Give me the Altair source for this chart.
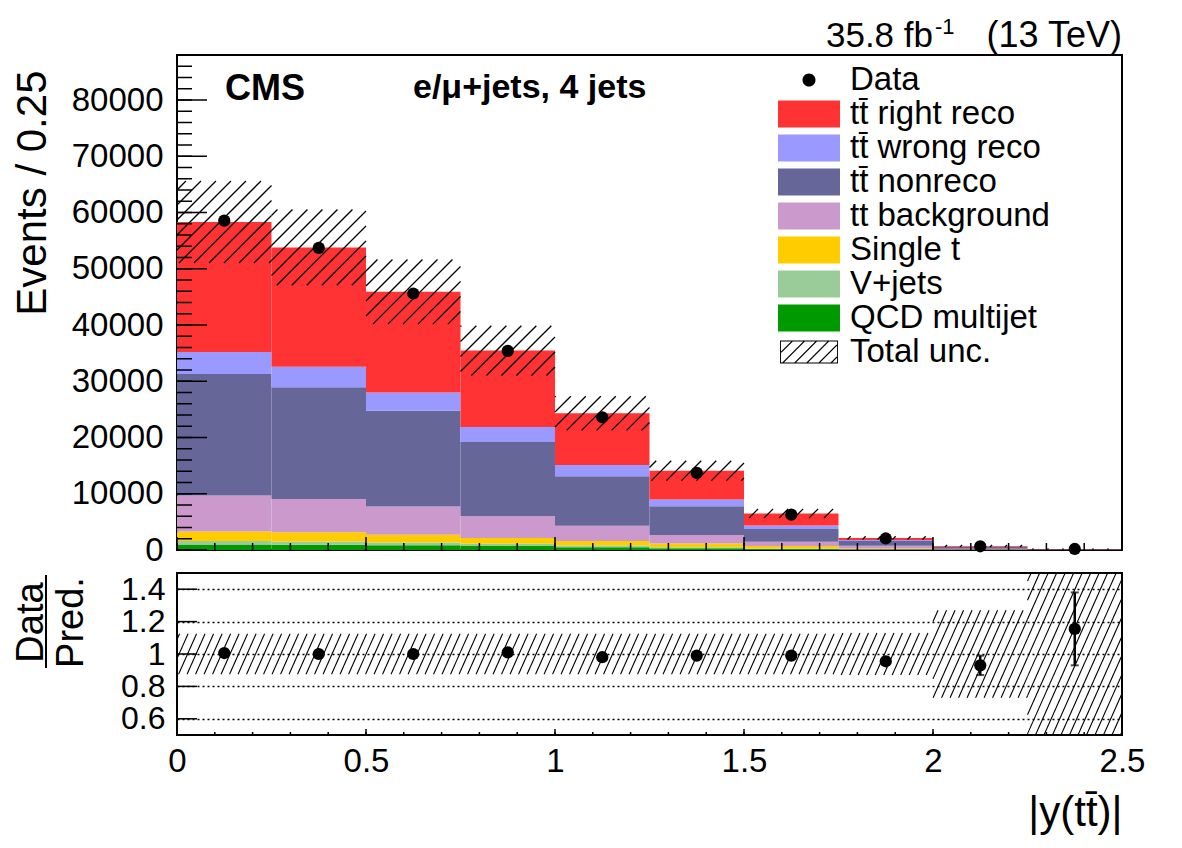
import math
import pandas as pd
import altair as alt

FONT = "Liberation Sans"

# ---------------- data ----------------
bin_lo = [0.0, 0.25, 0.5, 0.75, 1.0, 1.25, 1.5, 1.75, 2.0, 2.25]
bin_hi = [0.25, 0.5, 0.75, 1.0, 1.25, 1.5, 1.75, 2.0, 2.25, 2.5]

qcd        = [1000, 950, 850, 700, 500, 300, 150, 60, 20, 5]
vjets      = [600, 550, 500, 400, 300, 200, 130, 60, 20, 5]
single_t   = [1700, 1650, 1350, 1050, 800, 650, 420, 160, 50, 10]
tt_bkg     = [6400, 5900, 5050, 3850, 2700, 1500, 750, 470, 150, 40]
tt_nonreco = [21600, 19900, 17000, 13200, 8800, 5150, 2300, 850, 280, 60]
tt_wrong   = [3900, 3650, 3250, 2650, 2000, 1200, 600, 200, 70, 15]
tt_right   = [23100, 21200, 17900, 13600, 9200, 5100, 2150, 350, 120, 25]

data_obs = [58550, 53700, 45600, 35400, 23600, 13700, 6300, 2050, 660, 185]

rel_unc = [0.125, 0.125, 0.125, 0.125, 0.125, 0.125, 0.125, 0.13, 0.27, 0.6]

ratio     = [1.006, 1.0, 1.0, 1.01, 0.98, 0.99, 0.99, 0.955, 0.93, 1.155]
ratio_err = [0.005, 0.005, 0.005, 0.006, 0.007, 0.009, 0.013, 0.022, 0.06, 0.225]

# axis tick positions
major_x = [0, 0.5, 1, 1.5, 2, 2.5]
minor_x = [round(i * 0.1, 1) for i in range(26)]
top_major_y = [0, 10000, 20000, 30000, 40000, 50000, 60000, 70000, 80000]
top_minor_y = [i * 2000 for i in range(45)]
bot_major_y = [0.6, 0.8, 1.0, 1.2, 1.4]

TTB = "t" + "t\u0304"
proc_names = ["QCD multijet", "V+jets", "Single t", "tt background",
              TTB + " nonreco", TTB + " wrong reco", TTB + " right reco"]
proc_values = [qcd, vjets, single_t, tt_bkg, tt_nonreco, tt_wrong, tt_right]

legend_domain = ["Data", TTB + " right reco", TTB + " wrong reco", TTB + " nonreco",
                 "tt background", "Single t", "V+jets", "QCD multijet", "Total unc."]
legend_colors = ["#000000", "#ff3333", "#9999ff", "#666699", "#cc99cc",
                 "#ffcc00", "#99cc99", "#009900", "#000000"]

# ---------------- geometry of the panels ----------------
W = 945
H_TOP = 495
H_BOT = 162
XDOM = [0, 2.5]
YDOM_TOP = [0, 88000]
YDOM_BOT = [0.5, 1.5]

# ---------------- tables ----------------
rows = []
for order, (name, vals) in enumerate(zip(proc_names, proc_values)):
    for lo, hi, v in zip(bin_lo, bin_hi, vals):
        rows.append(dict(lo=lo, hi=hi, val=v, proc=name, ord=order))
stack_df = pd.DataFrame(rows)

totals = [sum(v[i] for v in proc_values) for i in range(len(bin_lo))]
centers = [(a + b) / 2 for a, b in zip(bin_lo, bin_hi)]
data_df = pd.DataFrame(dict(x=centers, y=data_obs))

ratio_df = pd.DataFrame(dict(x=centers, r=ratio,
                             lo=[r - e for r, e in zip(ratio, ratio_err)],
                             hi=[r + e for r, e in zip(ratio, ratio_err)]))


def hatch(x_lo, x_hi, y_lo, y_hi, xdom, ydom, w, h, spacing, angle):
    m = math.tan(math.radians(angle))
    sx = w / (xdom[1] - xdom[0])
    sy = h / (ydom[1] - ydom[0])
    out = []
    for a0, a1, b0, b1 in zip(x_lo, x_hi, y_lo, y_hi):
        b0 = max(b0, ydom[0])
        b1 = min(b1, ydom[1])
        if b1 <= b0:
            continue
        u0, u1 = (a0 - xdom[0]) * sx, (a1 - xdom[0]) * sx
        v0, v1 = (b0 - ydom[0]) * sy, (b1 - ydom[0]) * sy
        kmin = math.floor((u0 - v1 / m) / spacing) - 1
        kmax = math.ceil((u1 - v0 / m) / spacing) + 1
        for k in range(kmin, kmax + 1):
            c = k * spacing
            ua = max(u0, c + v0 / m)
            ub = min(u1, c + v1 / m)
            if ub - ua > 0.3:
                out.append(dict(hx=ua / sx + xdom[0], hy=m * (ua - c) / sy + ydom[0],
                                hx2=ub / sx + xdom[0], hy2=m * (ub - c) / sy + ydom[0]))
    return pd.DataFrame(out)


top_hatch = hatch(bin_lo, bin_hi,
                  [t * (1 - u) for t, u in zip(totals, rel_unc)],
                  [t * (1 + u) for t, u in zip(totals, rel_unc)],
                  XDOM, YDOM_TOP, W, H_TOP, 15, 45)
bot_hatch = hatch(bin_lo, bin_hi,
                  [1 - u for u in rel_unc], [1 + u for u in rel_unc],
                  XDOM, YDOM_BOT, W, H_BOT, 8.5, 66)

# ---------------- legend symbols (style only) ----------------
BOX = "M-1,-0.435L1,-0.435L1,0.435L-1,0.435Z"
CIRC = "M0.21,0A0.21,0.21,0,1,1,-0.21,0A0.21,0.21,0,1,1,0.21,0Z"


def hatch_symbol():
    w, h, t, lw, s = 0.935, 0.37, 0.03, 0.055, 0.39
    p = (f"M{-w},{-h}L{w},{-h}L{w},{h}L{-w},{h}Z"
         f"M{-w+t},{-h+t}L{-w+t},{h-t}L{w-t},{h-t}L{w-t},{-h+t}Z")
    u = -w - 2 * h
    while u < w:
        ta = max(0.0, -w - u)
        tb = min(2 * h, w - lw - u)
        if tb > ta:
            x1, y1 = u + ta, h - ta
            x2, y2 = u + tb, h - tb
            p += (f"M{x1:.3f},{y1:.3f}L{x2:.3f},{y2:.3f}"
                  f"L{x2+lw:.3f},{y2:.3f}L{x1+lw:.3f},{y1:.3f}Z")
        u += s
    return p


legend_shapes = [CIRC, BOX, BOX, BOX, BOX, BOX, BOX, BOX, hatch_symbol()]

xscale = alt.Scale(domain=XDOM, nice=False, zero=False)
yscale_top = alt.Scale(domain=YDOM_TOP, nice=False)
yscale_bot = alt.Scale(domain=YDOM_BOT, nice=False, zero=False)

legend_cfg = dict(orient="none", legendX=601, legendY=8.5, title=None,
                  symbolSize=3844, labelFontSize=33, labelFont=FONT, labelColor="black",
                  clipHeight=33, rowPadding=-3, padding=0, labelOffset=10,
                  symbolStrokeWidth=0, labelLimit=500, symbolOpacity=1, offset=0)


def xticks(values, length, height, show_axis=True):
    enc_x = alt.X("v:Q", scale=xscale) if show_axis else alt.X("v:Q", scale=xscale, axis=None)
    return alt.Chart(pd.DataFrame({"v": values})).mark_rule(
        color="black", strokeWidth=1.5).encode(
        x=enc_x, y=alt.value(height - length), y2=alt.value(height))


def yticks(values, length, yscale):
    return alt.Chart(pd.DataFrame({"v": values})).mark_rule(
        color="black", strokeWidth=1.5).encode(
        y=alt.Y("v:Q", scale=yscale),
        x=alt.value(0), x2=alt.value(length))


def label(text, x, y, size, weight="normal", align="left"):
    return alt.Chart(pd.DataFrame({"t": [text]})).mark_text(
        font=FONT, fontSize=size, fontWeight=weight, align=align,
        baseline="alphabetic", color="black").encode(
        x=alt.value(x), y=alt.value(y), text="t:N")


# ---------------- top panel ----------------
bars = alt.Chart(stack_df).transform_stack(
    stack="val", groupby=["lo"], as_=["v0", "v1"],
    sort=[alt.SortField("ord", order="ascending")]
).mark_rect(opacity=1).encode(
    x=alt.X("lo:Q", scale=xscale, axis=None),
    x2="hi:Q",
    y=alt.Y("v0:Q", scale=yscale_top,
            axis=alt.Axis(orient="left", values=top_major_y, format="d",
                          labelFont=FONT, labelFontSize=33, labelColor="black",
                          labelPadding=14, labelOverlap=False, ticks=False, tickSize=0,
                          domain=False, grid=False,
                          title="Events / 0.25", titleFont=FONT, titleFontSize=42,
                          titleFontWeight="normal", titleColor="black", titleAngle=-90,
                          titleX=-132, titleY=15, titleAlign="right",
                          titleBaseline="alphabetic")),
    y2="v1:Q",
    color=alt.Color("proc:N", scale=alt.Scale(domain=legend_domain, range=legend_colors),
                    legend=alt.Legend(**legend_cfg)),
)

top_hatch_layer = alt.Chart(top_hatch).mark_rule(color="black", strokeWidth=1.3).encode(
    x=alt.X("hx:Q", scale=xscale, axis=None),
    y=alt.Y("hy:Q", scale=yscale_top),
    x2="hx2:Q",
    y2="hy2:Q",
)

data_pts = alt.Chart(data_df).mark_circle(size=150, color="black", opacity=1).encode(
    x=alt.X("x:Q", scale=xscale, axis=None),
    y=alt.Y("y:Q", scale=yscale_top),
)

legend_layer = alt.Chart(pd.DataFrame({"proc": pd.Series([], dtype=str)})).mark_point(
    filled=True, opacity=1).encode(
    color=alt.Color("proc:N", scale=alt.Scale(domain=legend_domain, range=legend_colors),
                    legend=alt.Legend(**legend_cfg)),
    shape=alt.Shape("proc:N", scale=alt.Scale(domain=legend_domain, range=legend_shapes),
                    legend=alt.Legend(**legend_cfg)),
)

top = alt.layer(
    bars, top_hatch_layer, data_pts, legend_layer,
    xticks(minor_x, 7, H_TOP, False), xticks(major_x, 13, H_TOP, False),
    yticks(top_minor_y, 15, yscale_top), yticks(top_major_y, 30, yscale_top),
    label("CMS", 48, 45, 36, "bold"),
    label("e/\u03bc+jets, 4 jets", 236, 43, 34, "bold"),
    label("35.8 fb", 756, -8, 35, align="right"),
    label("-1", 758, -21, 22),
    label("(13 TeV)", 945, -8, 36, align="right"),
).properties(width=W, height=H_TOP)

# ---------------- ratio panel ----------------
bot_hatch_layer = alt.Chart(bot_hatch).mark_rule(color="black", strokeWidth=1.1).encode(
    x=alt.X("hx:Q", scale=xscale,
            axis=alt.Axis(orient="bottom", values=major_x, format="~g",
                          labelFlush=False, labelOverlap=False, labelFont=FONT,
                          labelFontSize=33, labelColor="black", labelPadding=10,
                          ticks=False, tickSize=0, domain=False, grid=False,
                          title="|y(" + TTB + ")|", titleFont=FONT, titleFontSize=42,
                          titleFontWeight="normal", titleColor="black",
                          titleX=W, titleY=90, titleAlign="right",
                          titleBaseline="alphabetic")),
    y=alt.Y("hy:Q", scale=yscale_bot,
            axis=alt.Axis(orient="left", values=bot_major_y, format="~g",
                          labelFont=FONT, labelFontSize=32, labelColor="black",
                          labelPadding=12, labelOverlap=False, ticks=False, tickSize=0,
                          domain=False,
                          grid=True, gridDash=[2, 3], gridColor="black",
                          gridWidth=1.3, gridOpacity=1,
                          title=["Data", "Pred."], titleFont=FONT, titleFontSize=38,
                          titleFontWeight="normal", titleColor="black", titleAngle=-90,
                          titleX=-135, titleY=49, titleAlign="center",
                          titleBaseline="alphabetic", titleLineHeight=40)),
    x2="hx2:Q",
    y2="hy2:Q",
)

err_rules = alt.Chart(ratio_df).mark_rule(color="black", strokeWidth=2.5).encode(
    x=alt.X("x:Q", scale=xscale),
    y=alt.Y("lo:Q", scale=yscale_bot),
    y2="hi:Q",
)
cap_lo = alt.Chart(ratio_df).mark_tick(color="black", orient="horizontal", thickness=2,
                                       size=8).encode(
    x=alt.X("x:Q", scale=xscale),
    y=alt.Y("lo:Q", scale=yscale_bot),
)
cap_hi = alt.Chart(ratio_df).mark_tick(color="black", orient="horizontal", thickness=2,
                                       size=8).encode(
    x=alt.X("x:Q", scale=xscale),
    y=alt.Y("hi:Q", scale=yscale_bot),
)
ratio_pts = alt.Chart(ratio_df).mark_circle(size=150, color="black", opacity=1).encode(
    x=alt.X("x:Q", scale=xscale),
    y=alt.Y("r:Q", scale=yscale_bot),
)

frac_bar = alt.Chart(pd.DataFrame({"a": [0]})).mark_rule(color="black",
                                                          strokeWidth=2).encode(
    x=alt.value(-131), y=alt.value(2), y2=alt.value(95))

bottom = alt.layer(
    bot_hatch_layer, err_rules, cap_lo, cap_hi, ratio_pts, frac_bar,
    xticks(minor_x, 3, H_BOT), xticks(major_x, 6, H_BOT),
    yticks(bot_major_y, 20, yscale_bot),
).properties(width=W, height=H_BOT)

chart = alt.vconcat(top, bottom, spacing=23, bounds="flush").resolve_scale(
    color="independent", shape="independent"
).properties(
    padding={"left": 9, "top": 15, "right": 10, "bottom": 5},
    background="white",
).configure_view(stroke="black", strokeWidth=2)

chart.save("out.html", embed_options={"renderer": "svg", "actions": False})
